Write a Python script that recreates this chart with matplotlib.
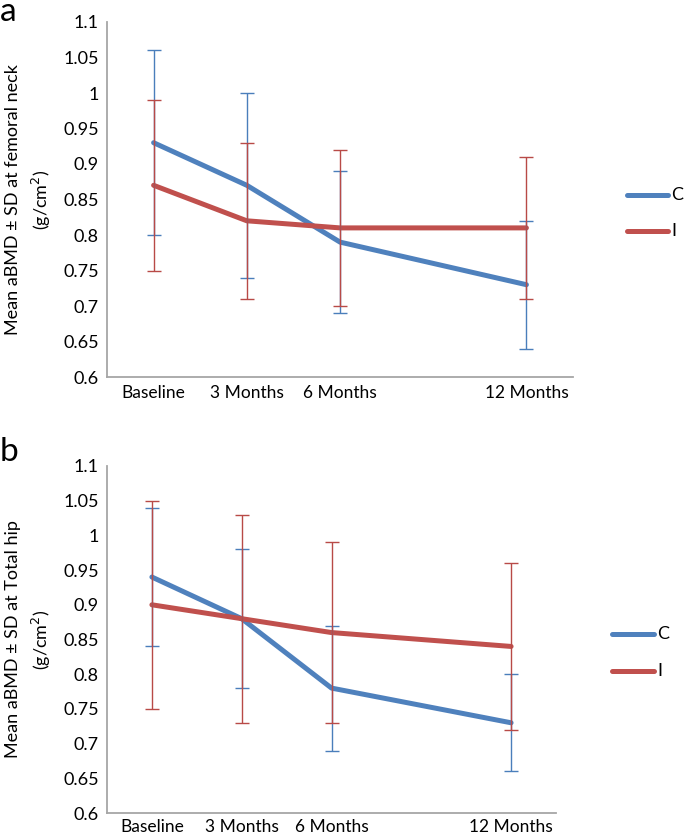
import matplotlib
matplotlib.use("Agg")
import matplotlib.pyplot as plt
from matplotlib.lines import Line2D

plt.rcParams['font.family'] = ['Lato', 'DejaVu Sans']

months = [0, 3, 6, 12]
tick_labels = ["Baseline", "3 Months", "6 Months", "12 Months"]
series_names = ["C", "I"]

# Panel a: femoral neck
a_C_mean = [0.93, 0.87, 0.79, 0.73]
a_C_sd = [0.13, 0.13, 0.10, 0.09]
a_I_mean = [0.87, 0.82, 0.81, 0.81]
a_I_sd = [0.12, 0.11, 0.11, 0.10]

# Panel b: total hip
b_C_mean = [0.94, 0.88, 0.78, 0.73]
b_C_sd = [0.10, 0.10, 0.09, 0.07]
b_I_mean = [0.90, 0.88, 0.86, 0.84]
b_I_sd = [0.15, 0.15, 0.13, 0.12]

yticks = [0.6, 0.65, 0.7, 0.75, 0.8, 0.85, 0.9, 0.95, 1, 1.05, 1.1]
ytick_labels = ["0.6", "0.65", "0.7", "0.75", "0.8", "0.85", "0.9", "0.95", "1", "1.05", "1.1"]

C_LINE = "#4F81BD"
I_LINE = "#C0504D"
C_ERR = "#4A7EBB"
I_ERR = "#B84A47"
SPINE = "#A6A6A6"

W, H = 685, 834
fig = plt.figure(figsize=(W / 100, H / 100), dpi=100)


def px_axes(left, right, top, bottom):
    return fig.add_axes([left / W, 1 - bottom / H, (right - left) / W, (bottom - top) / H])


def panel(ax, top, bottom, cm, cs, im, isd, ylabel, leg_x0, leg_x1, leg_yc, leg_yi,
          letter, letter_y, xpad):
    ax.plot(months, cm, color=C_LINE, lw=3.6, solid_capstyle='round', zorder=3)
    ax.plot(months, im, color=I_LINE, lw=3.6, solid_capstyle='round', zorder=3)
    ax.errorbar(months, cm, yerr=cs, fmt='none', ecolor=C_ERR, elinewidth=1.0,
                capsize=4.7, capthick=1.0, zorder=4)
    ax.errorbar(months, im, yerr=isd, fmt='none', ecolor=I_ERR, elinewidth=1.0,
                capsize=4.7, capthick=1.0, zorder=4)
    ax.set_xlim(-1.5, 13.5)
    ax.set_ylim(0.6, 1.1)
    ax.set_xticks(months)
    ax.set_xticklabels(tick_labels, fontsize=12.5)
    ax.set_yticks(yticks)
    ax.set_yticklabels(ytick_labels, fontsize=13)
    ax.tick_params(axis='y', length=0, pad=6)
    ax.tick_params(axis='x', length=0, pad=xpad)
    for s in ['top', 'right']:
        ax.spines[s].set_visible(False)
    for s in ['left', 'bottom']:
        ax.spines[s].set_color(SPINE)
        ax.spines[s].set_linewidth(1.3)
    fig.text(29 / W, 1 - (top + bottom) / 2 / H, ylabel, rotation=90, fontsize=13,
             ha='center', va='center', multialignment='center', linespacing=1.5)
    # legend drawn in figure pixels
    for y, col, name in [(leg_yc, C_LINE, series_names[0]), (leg_yi, I_LINE, series_names[1])]:
        fig.add_artist(Line2D([leg_x0 / W, leg_x1 / W], [1 - y / H, 1 - y / H],
                              color=col, lw=3.6, solid_capstyle='round'))
        fig.text((leg_x1 + 3) / W, 1 - y / H, name, fontsize=13, va='center', ha='left')
    fig.text(0.0, 1 - letter_y / H, letter, fontsize=24, va='center', ha='left')


ax_a = px_axes(107, 573, 22, 377)
panel(ax_a, 22, 377, a_C_mean, a_C_sd, a_I_mean, a_I_sd,
      "Mean aBMD ± SD at femoral neck\n(g/cm$^2$)", 627, 668, 195, 231, "a", 12, 6)

ax_b = px_axes(107, 556, 466, 813)
panel(ax_b, 466, 813, b_C_mean, b_C_sd, b_I_mean, b_I_sd,
      "Mean aBMD ± SD at Total hip\n(g/cm$^2$)", 612, 654, 634, 671, "b", 452, 4)

fig.savefig("out.png", dpi=100)
